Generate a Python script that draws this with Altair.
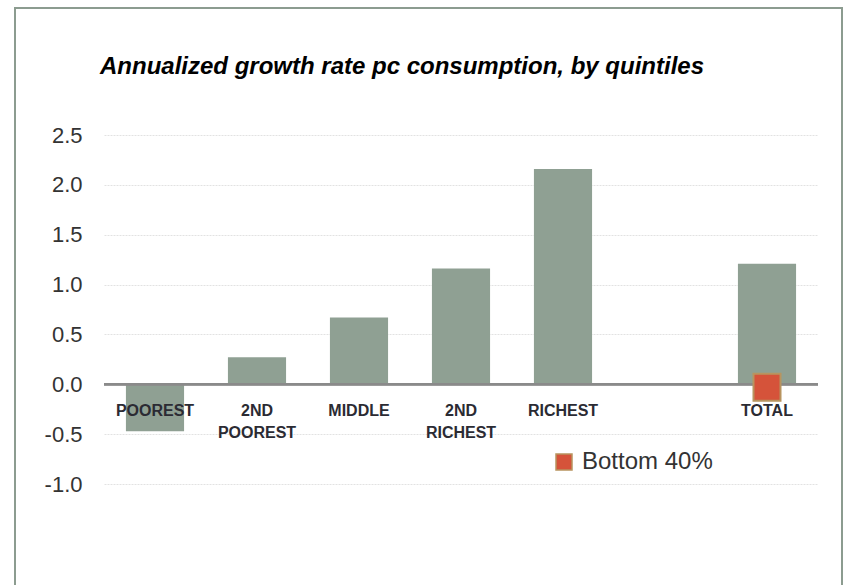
import altair as alt
import pandas as pd

categories = ["Poorest", "2nd Poorest", "Middle", "2nd Richest", "Richest", " ", "Total"]
labels = ["POOREST", "2ND\nPOOREST", "MIDDLE", "2ND\nRICHEST", "RICHEST", "", "TOTAL"]
growth = [-0.47, 0.27, 0.67, 1.16, 2.16, None, 1.21]
bottom40_cat = ["Total"]
bottom40_val = [-0.03]
series_name = "Bottom 40%"
y_ticks = [-1.0, -0.5, 0.0, 0.5, 1.0, 1.5, 2.0, 2.5]
title_text = "Annualized growth rate pc consumption, by quintiles"

FONT = "Liberation Sans"
BAR = "#8FA093"
FRAME = "#8C9C90"

bars_df = pd.DataFrame({"cat": categories, "value": growth, "label": labels, "zero": [0] * len(categories)})
pt_df = pd.DataFrame({"cat": bottom40_cat, "value": bottom40_val, "series": [series_name]})
title_df = pd.DataFrame({"t": [title_text]})

xscale = alt.Scale(domain=categories, paddingInner=0.43, paddingOuter=0.215)
yscale = alt.Scale(domain=[-1.0, 2.5], nice=False, zero=False)

bars = alt.Chart(bars_df).mark_bar(color=BAR).encode(
    x=alt.X("cat:N", scale=xscale, sort=categories, axis=None),
    y=alt.Y("value:Q", scale=yscale, title=None,
            axis=alt.Axis(values=y_ticks, domain=False, ticks=False, labelPadding=22,
                          labelFontSize=22, labelFont=FONT, labelColor="#333333",
                          labelExpr="replace(format(datum.value, '.1f'), '\u2212', '-')",
                          gridColor="#E2E2E2", gridDash=[2, 1], gridWidth=1)),
)

zero_rule = alt.Chart(bars_df).mark_rule(color="#8A8A8A", strokeWidth=2).encode(
    y=alt.datum(0, scale=yscale)
)

cat_text = alt.Chart(bars_df).mark_text(
    font=FONT, fontSize=16, fontWeight="bold", color="#2B2B33",
    baseline="alphabetic", dy=32, lineBreak="\n", lineHeight=22,
).encode(
    x=alt.X("cat:N", scale=xscale, sort=categories, axis=None),
    y=alt.Y("zero:Q", scale=yscale),
    text="label:N",
)

points = alt.Chart(pt_df).mark_point(
    shape="square", filled=True, size=729, stroke="#B8945F", strokeWidth=2, opacity=1
).encode(
    x=alt.X("cat:N", scale=xscale, sort=categories, axis=None),
    y=alt.Y("value:Q", scale=yscale),
    color=alt.Color("series:N", scale=alt.Scale(domain=[series_name], range=["#D5533A"]),
                    legend=alt.Legend(orient="none", legendX=448, legendY=315, title=None,
                                      labelFontSize=24, labelFont=FONT, labelColor="#333333",
                                      symbolType="square", symbolSize=256,
                                      symbolStrokeColor="#B8945F", symbolStrokeWidth=1.5,
                                      labelOffset=6, padding=0)),
)

title_mark = alt.Chart(title_df).mark_text(
    font=FONT, fontSize=24, fontStyle="italic", fontWeight="bold", color="#000000",
    align="left", baseline="alphabetic",
).encode(x=alt.value(-4), y=alt.value(-61), text="t:N")

frame_left = alt.Chart(bars_df).mark_rule(color=FRAME, strokeWidth=2).encode(
    x=alt.value(-89), y=alt.value(-127), y2=alt.value(460)
)
frame_top = alt.Chart(bars_df).mark_rule(color=FRAME, strokeWidth=2).encode(
    x=alt.value(-90), x2=alt.value(739), y=alt.value(-127)
)
frame_right = alt.Chart(bars_df).mark_rule(color=FRAME, strokeWidth=2).encode(
    x=alt.value(738), y=alt.value(-127), y2=alt.value(460)
)

chart = alt.layer(bars, zero_rule, cat_text, points, title_mark,
                  frame_left, frame_top, frame_right).properties(
    width=714, height=349,
    background="white",
    autosize=alt.AutoSizeParams(type="none"),
    padding={"left": 104, "top": 135, "right": 30, "bottom": 101},
).configure_view(strokeWidth=0, stroke="transparent")

chart.save("out.html", embed_options={"renderer": "svg", "actions": False})
